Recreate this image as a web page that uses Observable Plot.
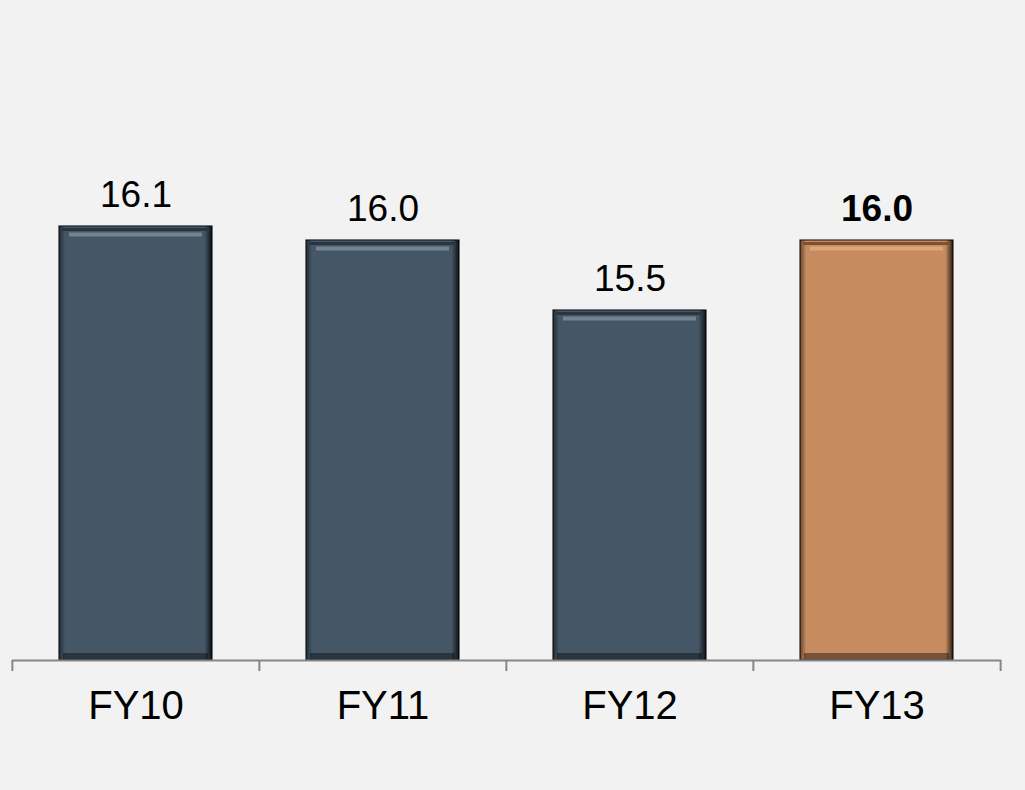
<!DOCTYPE html>
<html>
<head>
<meta charset="utf-8">
<script src="https://cdn.jsdelivr.net/npm/d3@7"></script>
<script src="https://cdn.jsdelivr.net/npm/@observablehq/plot@0.6"></script>
<style>
  html, body { margin: 0; padding: 0; background: #f2f2f2; }
  #chart svg { display: block; }
</style>
</head>
<body>
<div id="chart"></div>
<script>
const categories = ["FY10", "FY11", "FY12", "FY13"];
const values = [16.1, 16.0, 15.5, 16.0];
const labels = ["16.1", "16.0", "15.5", "16.0"];
const highlight = [false, false, false, true];

const data = categories.map((c, i) => ({cat: c, value: values[i], label: labels[i], hi: highlight[i]}));

const W = 1025, H = 790, mL = 12, mR = 24;
const step = (W - mL - mR) / categories.length;
const base = 13;

function defs() {
  const ns = "http://www.w3.org/2000/svg";
  const d = document.createElementNS(ns, "defs");
  d.innerHTML = `
    <linearGradient id="edgeH" x1="0" x2="1" y1="0" y2="0">
      <stop offset="0" stop-color="#000" stop-opacity="0.5"/>
      <stop offset="0.04" stop-color="#000" stop-opacity="0"/>
      <stop offset="0.95" stop-color="#000" stop-opacity="0"/>
      <stop offset="0.985" stop-color="#000" stop-opacity="0.55"/>
      <stop offset="1" stop-color="#000" stop-opacity="0.85"/>
    </linearGradient>`;
  return d;
}

const plain = data.filter(d => !d.hi);
const bold = data.filter(d => d.hi);

const plot = Plot.plot({
  width: W,
  height: H,
  marginLeft: mL,
  marginRight: mR,
  marginTop: 100,
  marginBottom: 130,
  style: {background: "#f2f2f2", fontFamily: "'Liberation Sans', Arial, sans-serif"},
  x: {domain: categories, paddingInner: 0.38, paddingOuter: 0.19, axis: null},
  y: {domain: [base, 17], axis: null},
  marks: [
    defs,
    Plot.barY(data, {x: "cat", y1: base, y2: "value", fill: d => d.hi ? "#c68b5f" : "#455766", stroke: d => d.hi ? "#3a2618" : "#1b2229", strokeWidth: 1.2}),
    Plot.barY(data, {x: "cat", y1: base, y2: "value", fill: "url(#edgeH)"}),
    Plot.tickY(data, {x: "cat", y: "value", dy: 3, stroke: d => d.hi ? "#7d5030" : "#2a3540", strokeWidth: 3, insetLeft: 3, insetRight: 3}),
    Plot.tickY(data, {x: "cat", y: "value", dy: 8, stroke: d => d.hi ? "#e3ab80" : "#7d8f9d", strokeWidth: 4, strokeOpacity: 0.8, insetLeft: 10, insetRight: 10}),
    Plot.tickY(data, {x: "cat", y: base, dy: -4, stroke: "#000", strokeOpacity: 0.4, strokeWidth: 7, insetLeft: 4, insetRight: 4}),
    Plot.ruleY([base], {stroke: "#868686", strokeWidth: 2}),
    Plot.ruleX(categories, {x: d => d, dx: -step / 2, y1: base, y2: base - 11 / 140, stroke: "#868686", strokeWidth: 2}),
    Plot.ruleX([categories[categories.length - 1]], {x: d => d, dx: step / 2, y1: base, y2: base - 11 / 140, stroke: "#868686", strokeWidth: 2}),
    Plot.text(plain, {x: "cat", y: "value", text: "label", dy: -20, lineAnchor: "bottom", fontSize: 37, fill: "#000"}),
    Plot.text(bold, {x: "cat", y: "value", text: "label", dy: -20, lineAnchor: "bottom", fontSize: 37, fill: "#000", fontWeight: "bold"}),
    Plot.text(categories, {x: d => d, y: base, text: d => d, dy: 46, fontSize: 40, fill: "#000"})
  ]
});
document.getElementById("chart").appendChild(plot);
</script>
</body>
</html>
